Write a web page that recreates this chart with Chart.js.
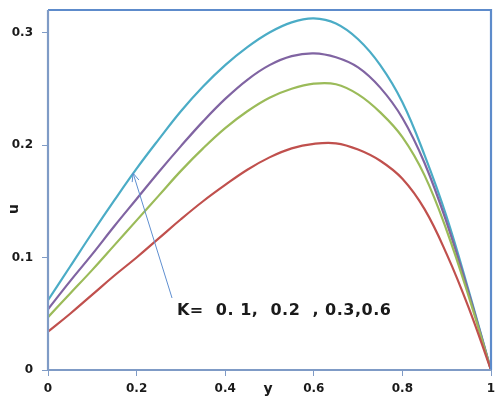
<!DOCTYPE html>
<html><head><meta charset="utf-8">
<script src="https://cdn.jsdelivr.net/npm/chart.js@4/dist/chart.umd.min.js"></script>
<style>html,body{margin:0;padding:0;background:#fff}#wrap{width:498px;height:397px}</style>
</head><body><div id="wrap"><canvas id="c" width="498" height="397"></canvas></div>
<script>
const yPos = [0,0.05,0.1,0.15,0.2,0.25,0.3,0.35,0.4,0.45,0.5,0.55,0.6,0.65,0.7,0.75,0.8,0.85,0.9,0.95,1];
const uK1 = [0.034,0.050,0.067,0.084,0.100,0.117,0.134,0.150,0.1645,0.178,0.189,0.197,0.201,0.2015,0.196,0.186,0.170,0.143,0.103,0.055,0];
const uK2 = [0.047,0.068,0.089,0.111,0.133,0.155,0.177,0.197,0.215,0.230,0.242,0.250,0.2545,0.254,0.245,0.229,0.207,0.173,0.124,0.065,0];
const uK3 = [0.054,0.079,0.103,0.128,0.152,0.176,0.199,0.221,0.241,0.258,0.271,0.279,0.2815,0.278,0.269,0.251,0.224,0.184,0.131,0.068,0];
const uK6 = [0.062,0.092,0.122,0.151,0.179,0.205,0.230,0.252,0.271,0.287,0.300,0.309,0.3125,0.308,0.294,0.271,0.238,0.191,0.136,0.070,0];
const seriesNames = ['K=0.1','K=0.2','K=0.3','K=0.6'];
const xTickLabels = ['0','0.2','0.4','0.6','0.8','1'];
const yTickLabels = ['0','0.1','0.2','0.3'];
const annotationText = 'K=  0. 1,  0.2  , 0.3,0.6';
const colors = ['#c0504d','#9bbb59','#8064a2','#4bacc6'];

function mk(vals, i){
  return {label: seriesNames[i], data: yPos.map((x,j)=>({x:x,y:vals[j]})),
    borderColor: colors[i], borderWidth: 2.2, pointRadius: 0, fill:false,
    tension:0.4};
}
const deco = {
  id:'deco',
  afterDraw(chart){
    const {ctx, chartArea:a, scales} = chart;
    const xs = scales.x, ys = scales.y;
    ctx.save();
    ctx.lineWidth = 2.2;
    ctx.strokeStyle = '#5d8bcb';
    ctx.beginPath();
    ctx.moveTo(a.left, a.top); ctx.lineTo(a.right, a.top); ctx.lineTo(a.right, a.bottom);
    ctx.stroke();
    ctx.strokeStyle = '#7f9bc6';
    ctx.beginPath();
    ctx.moveTo(a.left, a.top); ctx.lineTo(a.left, a.bottom); ctx.lineTo(a.right, a.bottom);
    ctx.stroke();
    ctx.fillStyle = '#1a1a1a';
    ctx.font = 'bold 14px "DejaVu Sans", Verdana, sans-serif';
    ctx.textAlign = 'center'; ctx.textBaseline = 'middle';
    ctx.fillText('y', xs.getPixelForValue(0.497), 389);
    ctx.save();
    ctx.translate(14, ys.getPixelForValue(0.143));
    ctx.rotate(-Math.PI/2);
    ctx.fillText('u', 0, 0);
    ctx.restore();
    const tx = xs.getPixelForValue(0.192), ty = ys.getPixelForValue(0.175);
    const sx = xs.getPixelForValue(0.28), sy = ys.getPixelForValue(0.064);
    ctx.strokeStyle = '#5f8fd0'; ctx.lineWidth = 1;
    ctx.beginPath(); ctx.moveTo(sx, sy); ctx.lineTo(tx, ty); ctx.stroke();
    const ang = Math.atan2(ty - sy, tx - sx);
    const L = 9, w = 0.4;
    ctx.beginPath();
    ctx.moveTo(tx - L*Math.cos(ang - w), ty - L*Math.sin(ang - w));
    ctx.lineTo(tx, ty);
    ctx.lineTo(tx - L*Math.cos(ang + w), ty - L*Math.sin(ang + w));
    ctx.stroke();
    ctx.fillStyle = '#1a1a1a';
    ctx.font = 'bold 16px "DejaVu Sans", Verdana, sans-serif';
    try { ctx.letterSpacing = '0.5px'; } catch(e) {}
    ctx.textAlign = 'left';
    ctx.fillText(annotationText, xs.getPixelForValue(0.291), ys.getPixelForValue(0.0525));
    ctx.restore();
  }
};
new Chart(document.getElementById('c'), {
  type:'line',
  data:{datasets:[mk(uK1,0),mk(uK2,1),mk(uK3,2),mk(uK6,3)]},
  options:{
    responsive:false, animation:false, devicePixelRatio:1,
    layout:{padding:{left:0,top:10,right:7,bottom:0}},
    plugins:{legend:{display:false}, tooltip:{enabled:false}},
    scales:{
      x:{type:'linear', min:0, max:1,
        afterFit(s){ s.height = 27; s.paddingLeft = 0; s.paddingRight = 0; },
        border:{display:false},
        grid:{display:true, drawOnChartArea:false, drawTicks:true, tickLength:6, color:'#7f9bc6', lineWidth:1},
        ticks:{stepSize:0.2, padding:6, maxRotation:0, color:'#1a1a1a', font:{family:'"DejaVu Sans", Verdana, sans-serif', weight:'bold', size:12},
          callback:(v,i)=> xTickLabels[Math.round(v*5)] ?? ''}},
      y:{type:'linear', min:0, max:0.32,
        afterFit(s){ s.width = 48; s.paddingTop = 0; s.paddingBottom = 0; },
        afterBuildTicks(s){ s.ticks = s.ticks.filter(t => Math.abs(t.value*10 - Math.round(t.value*10)) < 1e-6); },
        border:{display:false},
        grid:{display:true, drawOnChartArea:false, drawTicks:true, tickLength:6, color:'#7f9bc6', lineWidth:1},
        ticks:{stepSize:0.1, padding:9, color:'#1a1a1a', font:{family:'"DejaVu Sans", Verdana, sans-serif', weight:'bold', size:12},
          callback:(v)=> yTickLabels[Math.round(v*10)] ?? ''}}
    }
  },
  plugins:[deco]
});
</script></body></html>
